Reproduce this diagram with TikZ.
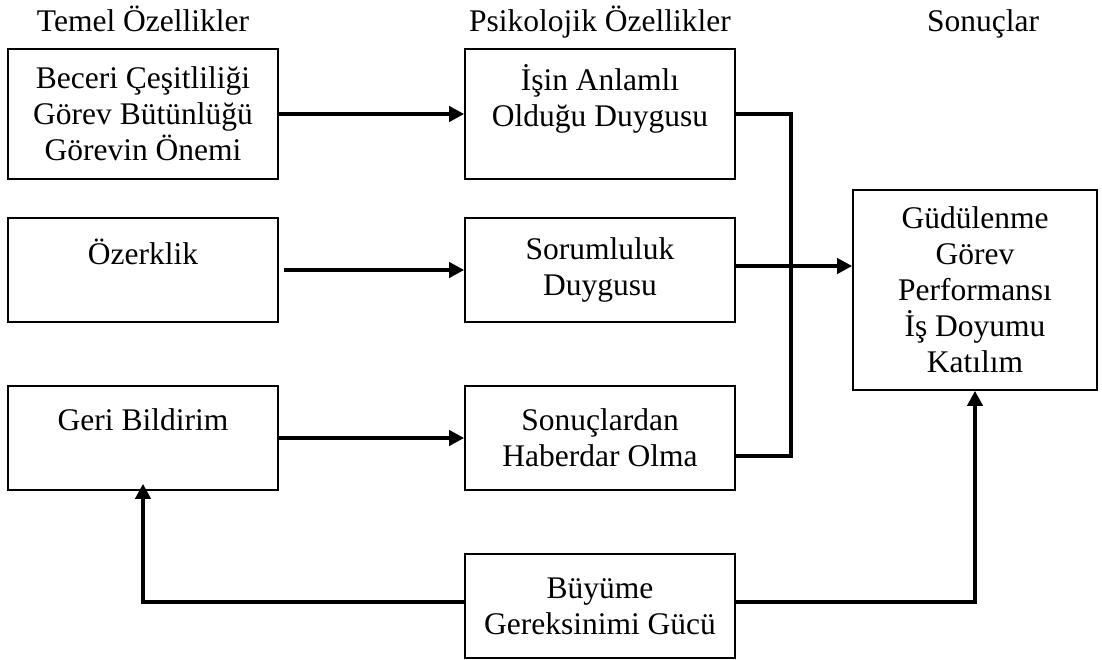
\documentclass[tikz,border=0pt]{standalone}
\usepackage{fontspec}
\setmainfont{Liberation Serif}
\usetikzlibrary{arrows.meta,calc}
\begin{document}
\begin{tikzpicture}[x=1pt,y=-1pt,
  every node/.style={font=\fontsize{31.5}{36}\selectfont},
  box/.style={draw,line width=1.6pt,align=center,inner sep=0pt,minimum width=270pt},
  head/.style={anchor=base,inner sep=0pt},
  conn/.style={line width=4pt},
  arr/.style={line width=4pt,-{Triangle[length=15pt,width=15pt]}}]
\useasboundingbox (0,0) rectangle (1102,660);
% headings
\node[head] (h1) at (143,32) {Temel Özellikler};
\node[head] (h2) at (600,32) {Psikolojik Özellikler};
\node[head] (h3) at (983,32) {Sonuçlar};
% left column
\node[box,minimum height=130pt] (A) at (143,114) {Beceri Çeşitliliği\\Görev Bütünlüğü\\Görevin Önemi};
\node[box,minimum height=104pt] (B) at (143,270) {Özerklik\\\mbox{}};
\node[box,minimum height=104pt] (C) at (143,438) {Geri Bildirim\\\mbox{}};
% middle column
\node[box,minimum height=130pt] (D) at (600,114) {İşin Anlamlı\\Olduğu Duygusu\\\mbox{}};
\node[box,minimum height=104pt] (E) at (600,270) {Sorumluluk\\Duygusu};
\node[box,minimum height=104pt] (F) at (600,438) {Sonuçlardan\\Haberdar Olma};
\node[box,minimum height=104pt] (H) at (600,606) {Büyüme\\Gereksinimi Gücü};
% right
\node[box,minimum width=244pt,minimum height=200pt] (G) at (975,290) {Güdülenme\\Görev\\Performansı\\İş Doyumu\\Katılım};
% arrows left to middle
\draw[arr] (A.east) -- (D.west);
\draw[arr,shorten <=5pt] (B.east) -- (E.west);
\draw[arr] (C.east) -- (F.west);
% junction
\coordinate (jb) at (791,456);
\draw[conn] (D.east) -| (jb) -- (jb -| F.east);
\coordinate (e1) at ($(E.east)+(0,-4)$);
\draw[arr] (e1) -- (e1 -| G.west);
% growth need strength
\coordinate (hw) at ($(H.west)+(0,-4)$);
\coordinate (he) at ($(H.east)+(0,-4)$);
\draw[arr,shorten >=-7pt] (hw) -| (C.south);
\draw[arr] (he) -| (G.south);
\end{tikzpicture}
\end{document}
